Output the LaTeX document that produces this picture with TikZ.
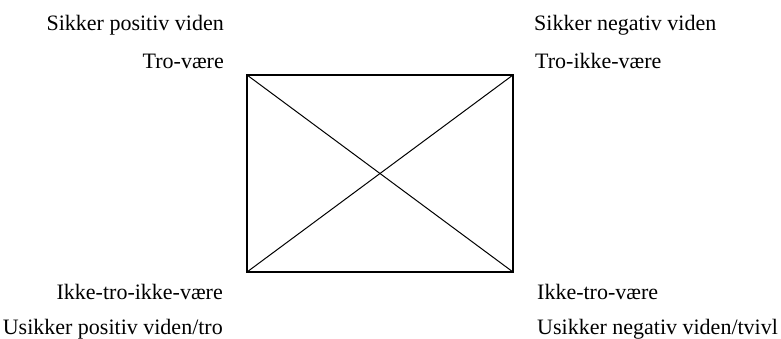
\documentclass[tikz,border=0pt]{standalone}
\usepackage{fontspec}
\setmainfont{Liberation Serif}
\usetikzlibrary{positioning,calc}
\tikzset{
  sq/.style={rectangle,draw=black,line width=2pt,minimum width=266pt,
    minimum height=197pt,inner sep=0pt,outer sep=0pt},
  diag/.style={draw=black,line width=1pt},
  lbl/.style={inner sep=0pt,font=\fontsize{22}{26}\selectfont}
}
\begin{document}
\begin{tikzpicture}[x=1pt,y=-1pt]
    \useasboundingbox (0,0) rectangle (781,339);
    \node[sq] (sq) at (380,173.5) {};
    \draw[diag] (sq.north west) -- (sq.south east);
    \draw[diag] (sq.south west) -- (sq.north east);

    % venstre side
    \node[lbl,anchor=base east] (sikpos) at (224,30.5) {Sikker positiv viden};
    \node[lbl,anchor=base east] (tro) at (224,69) {Tro-være};
    \node[lbl,anchor=base east] (ikkeikke) at (223,299) {Ikke-tro-ikke-være};
    \node[lbl,anchor=base east] (usikpos) at (223,334) {Usikker positiv viden/tro};

    % hoejre side
    \node[lbl,anchor=base west] (sikneg) at (534,30.5) {Sikker negativ viden};
    \node[lbl,anchor=base west] (troikke) at (535,69) {Tro-ikke-være};
    \node[lbl,anchor=base west] (ikketro) at (537,299) {Ikke-tro-være};
    \node[lbl,anchor=base west] (usikneg) at (537,334) {Usikker negativ viden/tvivl};
  \end{tikzpicture}
\end{document}
